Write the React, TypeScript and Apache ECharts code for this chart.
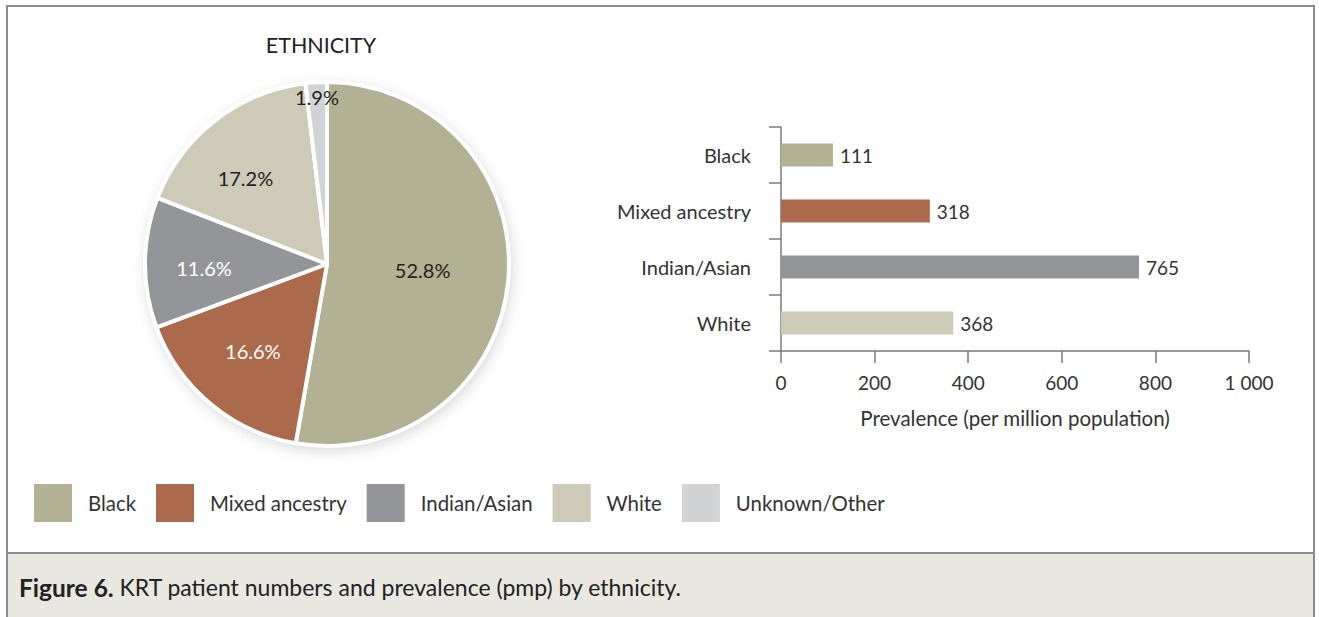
import React, { useEffect, useRef } from "react";
import * as echarts from "echarts";

// ---- data ----
const categories = ["Black", "Mixed ancestry", "Indian/Asian", "White", "Unknown/Other"];
const sharePct = [52.8, 16.6, 11.6, 17.2, 1.9];
const barCategories = ["Black", "Mixed ancestry", "Indian/Asian", "White"];
const prevalencePmp = [111, 318, 765, 368];
const xAxisMax = 1000;
const xAxisStep = 200;
const pieTitle = "ETHNICITY";
const xAxisName = "Prevalence (per million population)";
const captionBold = "Figure 6.";
const captionText = " KRT patient numbers and prevalence (pmp) by ethnicity.";

// ---- styles ----
const colors = ["#b2b193", "#ab6a4b", "#939598", "#cdcab7", "#d2d3d5"];
const labelColors = ["#231f20", "#ffffff", "#ffffff", "#231f20", "#231f20"];
const labelRadius = [93, 113, 120, 122, 166];
const labelShift = [[0, -2], [0, -2], [0, 5], [-5, 13], [0, 2]];
const FONT = "Lato, 'Open Sans', sans-serif";
const TEXT = "#333333";
const AXIS = "#7a7a7a";
const CX = 327;
const CY = 264;
const R = 182;

function fmtNum(v: number): string {
  return String(v).replace(/\B(?=(\d{3})+(?!\d))/g, " ");
}

export default function App() {
  const ref = useRef<HTMLDivElement>(null);

  useEffect(() => {
    if (!ref.current) return;
    const chart = echarts.init(ref.current, null, { renderer: "svg" });

    const pieData = categories.map((name, i) => ({
      name,
      value: sharePct[i],
      itemStyle: { color: colors[i] },
    }));

    const labelSeries = categories.map((_, k) => ({
      type: "pie",
      silent: true,
      legendHoverLink: false,
      startAngle: 90,
      center: [CX, CY],
      radius: [labelRadius[k] - 1, labelRadius[k] + 1],
      z: 5,
      itemStyle: { color: "rgba(0,0,0,0)", borderWidth: 0 },
      emphasis: { disabled: true },
      labelLine: { show: false },
      data: categories.map((name, i) => ({
        name,
        value: sharePct[i],
        label: {
          show: i === k,
          position: "inside",
          offset: labelShift[i],
          formatter: (p: any) => `${p.value.toFixed(1)}%`,
          color: labelColors[i],
          fontSize: 20,
          fontFamily: FONT,
        },
      })),
    }));

    const option: any = {
      animation: false,
      backgroundColor: "#ffffff",
      textStyle: { fontFamily: FONT },
      graphic: [
        {
          type: "rect",
          z: 0,
          shape: { x: 7, y: 6, width: 1307, height: 640 },
          style: { fill: "#ffffff", stroke: "#8c8c8c", lineWidth: 2 },
        },
        {
          type: "rect",
          z: 1,
          shape: { x: 7, y: 553, width: 1307, height: 100 },
          style: { fill: "#e8e7e0", stroke: "#8c8c8c", lineWidth: 2 },
        },
        {
          type: "text",
          z: 2,
          x: 19,
          y: 587,
          style: {
            text: `{b|${captionBold}}{n|${captionText}}`,
            verticalAlign: "middle",
            rich: {
              b: { fontFamily: FONT, fontSize: 24.5, fontWeight: "bold", fill: "#222222" },
              n: { fontFamily: FONT, fontSize: 23, fill: "#222222" },
            },
          },
        },
        {
          type: "text",
          z: 2,
          x: 321,
          y: 45,
          style: {
            text: pieTitle,
            fontFamily: FONT,
            fontSize: 21.5,
            fill: "#222222",
            align: "center",
            verticalAlign: "middle",
          },
        },
        {
          type: "circle",
          z: 1,
          shape: { cx: CX, cy: CY, r: R + 1 },
          style: {
            fill: "#ffffff",
            shadowBlur: 14,
            shadowOffsetX: 2,
            shadowOffsetY: 4,
            shadowColor: "rgba(0,0,0,0.16)",
          },
        },
      ],
      legend: {
        left: 34,
        top: 484,
        padding: 0,
        itemWidth: 38,
        itemHeight: 38,
        itemGap: 20,
        icon: "rect",
        selectedMode: false,
        data: categories,
        itemStyle: { borderWidth: 0 },
        textStyle: { fontSize: 20.4, color: TEXT, fontFamily: FONT, padding: [0, 0, 0, 11] },
      },
      grid: { left: 781, right: 70, top: 127, bottom: 266, containLabel: false },
      xAxis: {
        type: "value",
        min: 0,
        max: xAxisMax,
        interval: xAxisStep,
        name: xAxisName,
        nameLocation: "middle",
        nameGap: 56,
        nameTextStyle: { fontSize: 20.5, color: TEXT, fontFamily: FONT },
        axisLine: { show: true, lineStyle: { color: AXIS, width: 1.5 } },
        axisTick: { show: true, length: 12, lineStyle: { color: AXIS, width: 1.5 } },
        splitLine: { show: false },
        axisLabel: {
          margin: 22,
          fontSize: 19,
          color: TEXT,
          fontFamily: FONT,
          formatter: (v: number) => fmtNum(v),
        },
      },
      yAxis: {
        type: "category",
        data: barCategories,
        inverse: true,
        axisLine: { show: true, lineStyle: { color: AXIS, width: 1.5 } },
        axisTick: { show: true, length: 12, lineStyle: { color: AXIS, width: 1.5 } },
        axisLabel: { margin: 30, fontSize: 20, color: TEXT, fontFamily: FONT },
        splitLine: { show: false },
      },
      series: [
        {
          type: "pie",
          startAngle: 90,
          center: [CX, CY],
          radius: [0, R],
          z: 3,
          data: pieData,
          label: { show: false },
          labelLine: { show: false },
          emphasis: { disabled: true },
          itemStyle: { borderColor: "#ffffff", borderWidth: 4 },
        },
        ...labelSeries,
        {
          type: "bar",
          barWidth: 23,
          data: prevalencePmp.map((v, i) => ({ value: v, itemStyle: { color: colors[i] } })),
          label: {
            show: true,
            position: "right",
            distance: 7,
            fontSize: 19,
            color: TEXT,
            fontFamily: FONT,
          },
          emphasis: { disabled: true },
        },
      ],
    };

    chart.setOption(option);
    return () => {
      chart.dispose();
    };
  }, []);

  return (
    <div
      ref={ref}
      style={{ position: "absolute", left: 0, top: 0, width: 1319, height: 617 }}
    />
  );
}
